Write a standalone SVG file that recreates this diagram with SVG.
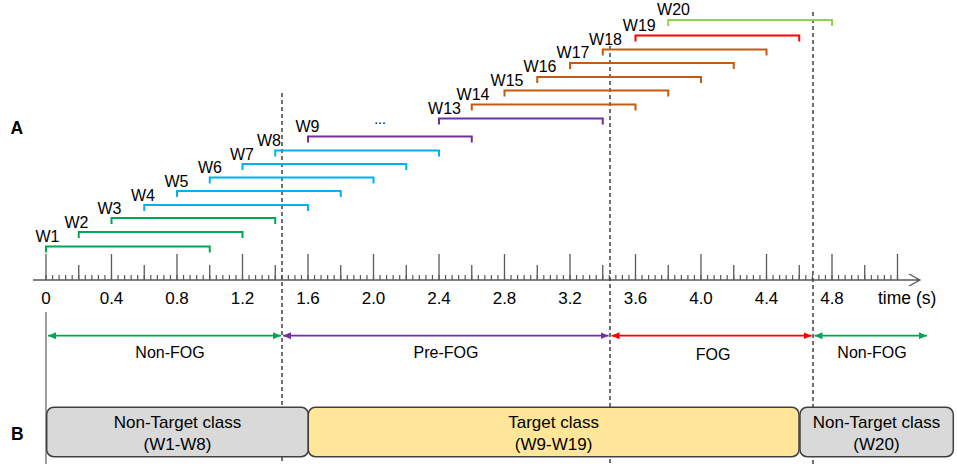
<svg xmlns="http://www.w3.org/2000/svg" width="957" height="464" viewBox="0 0 957 464">
<style>
text { font-family: "Liberation Sans", Arial, sans-serif; fill: #000; }
.wl { font-size: 16px; text-anchor: middle; }
.tk { font-size: 17px; text-anchor: middle; }
.ph { font-size: 16px; text-anchor: middle; }
.bx { font-size: 17px; text-anchor: middle; }
.pl { font-size: 17.5px; font-weight: bold; }
.win { fill: none; stroke-width: 2; }
.green { stroke: #00A651; }
.blue { stroke: #00B0F0; }
.purple { stroke: #7030A0; }
.orange { stroke: #C55A11; }
.red { stroke: #FF0000; }
.lime { stroke: #92D050; }
.tick { stroke: #595959; stroke-width: 1.3; fill: none; }
.dash { stroke: #404040; stroke-width: 1.5; stroke-dasharray: 4 3; fill: none; }
.arr { stroke-width: 1.8; fill: none; }
.box { stroke: #404040; stroke-width: 1.5; }
</style>
<defs>
<marker id="mg" viewBox="0 0 10 10" refX="10" refY="5" markerWidth="8" markerHeight="7" markerUnits="userSpaceOnUse" orient="auto-start-reverse" preserveAspectRatio="none"><path d="M0 0 L10 5 L0 10 Z" fill="#00A651"/></marker>
<marker id="mp" viewBox="0 0 10 10" refX="10" refY="5" markerWidth="8" markerHeight="7" markerUnits="userSpaceOnUse" orient="auto-start-reverse" preserveAspectRatio="none"><path d="M0 0 L10 5 L0 10 Z" fill="#7030A0"/></marker>
<marker id="mr" viewBox="0 0 10 10" refX="10" refY="5" markerWidth="8" markerHeight="7" markerUnits="userSpaceOnUse" orient="auto-start-reverse" preserveAspectRatio="none"><path d="M0 0 L10 5 L0 10 Z" fill="#FF0000"/></marker>
</defs>

<text class="pl" x="10.5" y="133.5">A</text>
<text class="pl" x="11" y="439.5">B</text>

<g id="axis">
<line x1="46" y1="312" x2="46" y2="464" stroke="#7F7F7F" stroke-width="1.5"/>
<path class="tick" d="M33 280 H920 M909 274 L920 280 L909 286"/>
<line x1="45.4" y1="277.5" x2="898.1" y2="277.5" stroke="#595959" stroke-width="5" stroke-dasharray="1.2 5.35"/>
<path class="tick" d="M46 254V280 M111.5 254V280 M177 254V280 M242.5 254V280 M308 254V280 M373.5 254V280 M439 254V280 M504.5 254V280 M570 254V280 M635.5 254V280 M701 254V280 M766.5 254V280 M832 254V280 M897.5 254V280"/>
<path class="tick" d="M78.75 265V280 M144.25 265V280 M209.75 265V280 M275.25 265V280 M340.75 265V280 M406.25 265V280 M471.75 265V280 M537.25 265V280 M602.75 265V280 M668.25 265V280 M733.75 265V280 M799.25 265V280 M864.75 265V280"/>
<text class="tk" x="46" y="304">0</text>
<text class="tk" x="111.5" y="304">0.4</text>
<text class="tk" x="177" y="304">0.8</text>
<text class="tk" x="242.5" y="304">1.2</text>
<text class="tk" x="308" y="304">1.6</text>
<text class="tk" x="373.5" y="304">2.0</text>
<text class="tk" x="439" y="304">2.4</text>
<text class="tk" x="504.5" y="304">2.8</text>
<text class="tk" x="570" y="304">3.2</text>
<text class="tk" x="635.5" y="304">3.6</text>
<text class="tk" x="701" y="304">4.0</text>
<text class="tk" x="766.5" y="304">4.4</text>
<text class="tk" x="832" y="304">4.8</text>
<text x="878" y="304" font-size="17.5">time (s)</text>
</g>

<g id="connectors">
<path class="dash" d="M282 93 V464"/>
<path class="dash" d="M610 46 V464"/>
<path class="dash" d="M813 12 V464"/>
<line class="arr green" x1="48" y1="335.7" x2="281" y2="335.7" marker-start="url(#mg)" marker-end="url(#mg)"/>
<line class="arr purple" x1="283" y1="335.7" x2="608.5" y2="335.7" marker-start="url(#mp)" marker-end="url(#mp)"/>
<line class="arr red" x1="611.5" y1="335.7" x2="811.5" y2="335.7" marker-start="url(#mr)" marker-end="url(#mr)"/>
<line class="arr green" x1="814.5" y1="335.7" x2="927" y2="335.7" marker-start="url(#mg)" marker-end="url(#mg)"/>
</g>

<g id="phase-labels">
<text class="ph" x="170" y="357.5">Non-FOG</text>
<text class="ph" x="446" y="357.5">Pre-FOG</text>
<text class="ph" x="713" y="360">FOG</text>
<text class="ph" x="872" y="357.5">Non-FOG</text>
</g>

<g id="windows">
<g id="w1"><path class="win green" d="M46 252.5V246.5H209.75V252.5"/><text class="wl" x="47.5" y="242">W1</text></g>
<g id="w2"><path class="win green" d="M78.75 238V232H242.5V238"/><text class="wl" x="76.5" y="227.5">W2</text></g>
<g id="w3"><path class="win green" d="M111.5 224V218H275.25V224"/><text class="wl" x="109.5" y="213.5">W3</text></g>
<g id="w4"><path class="win blue" d="M144.25 211V205H308V211"/><text class="wl" x="143" y="200.5">W4</text></g>
<g id="w5"><path class="win blue" d="M177 197V191H340.75V197"/><text class="wl" x="176.5" y="186.5">W5</text></g>
<g id="w6"><path class="win blue" d="M209.75 183.5V177.5H373.5V183.5"/><text class="wl" x="210" y="173">W6</text></g>
<g id="w7"><path class="win blue" d="M242.5 170V164H406.25V170"/><text class="wl" x="242" y="159.5">W7</text></g>
<g id="w8"><path class="win blue" d="M275.25 156.5V150.5H439V156.5"/><text class="wl" x="269" y="146">W8</text></g>
<g id="w9"><path class="win purple" d="M308 142.5V136.5H471.75V142.5"/><text class="wl" x="307.5" y="131.7">W9</text></g>
<text x="380" y="124" font-size="14" text-anchor="middle">...</text>
<g id="w13"><path class="win purple" d="M439 124.5V118.5H602.75V124.5"/><text class="wl" x="444.5" y="113.5">W13</text></g>
<g id="w14"><path class="win orange" d="M471.75 110.5V104.5H635.5V110.5"/><text class="wl" x="473" y="99.5">W14</text></g>
<g id="w15"><path class="win orange" d="M504.5 96.5V90.5H668.25V96.5"/><text class="wl" x="507" y="85.5">W15</text></g>
<g id="w16"><path class="win orange" d="M537.25 83V77H701V83"/><text class="wl" x="540" y="72">W16</text></g>
<g id="w17"><path class="win orange" d="M570 69V63H733.75V69"/><text class="wl" x="573" y="58">W17</text></g>
<g id="w18"><path class="win orange" d="M602.75 55.5V49.5H766.5V55.5"/><text class="wl" x="605.5" y="44.5">W18</text></g>
<g id="w19"><path class="win red" d="M635.5 41.5V35.5H799.25V41.5"/><text class="wl" x="639.3" y="30.5">W19</text></g>
<g id="w20"><path class="win lime" d="M668.25 26V20H832V26"/><text class="wl" x="673.5" y="15">W20</text></g>
</g>

<g id="non-target-1">
<rect class="box" x="46.7" y="407.3" width="261.6" height="49.4" rx="7" fill="#D9D9D9"/>
<text class="bx" x="177.5" y="428">Non-Target class</text>
<text class="bx" x="177.5" y="450">(W1-W8)</text>
</g>
<g id="target">
<rect class="box" x="308.3" y="407.3" width="490.7" height="49.4" rx="7" fill="#FFE699"/>
<text class="bx" x="553.6" y="428">Target class</text>
<text class="bx" x="553.6" y="450">(W9-W19)</text>
</g>
<g id="non-target-2">
<rect class="box" x="800" y="407.3" width="153.3" height="49.4" rx="7" fill="#D9D9D9"/>
<text class="bx" x="876.5" y="428">Non-Target class</text>
<text class="bx" x="876.5" y="450">(W20)</text>
</g>
</svg>
